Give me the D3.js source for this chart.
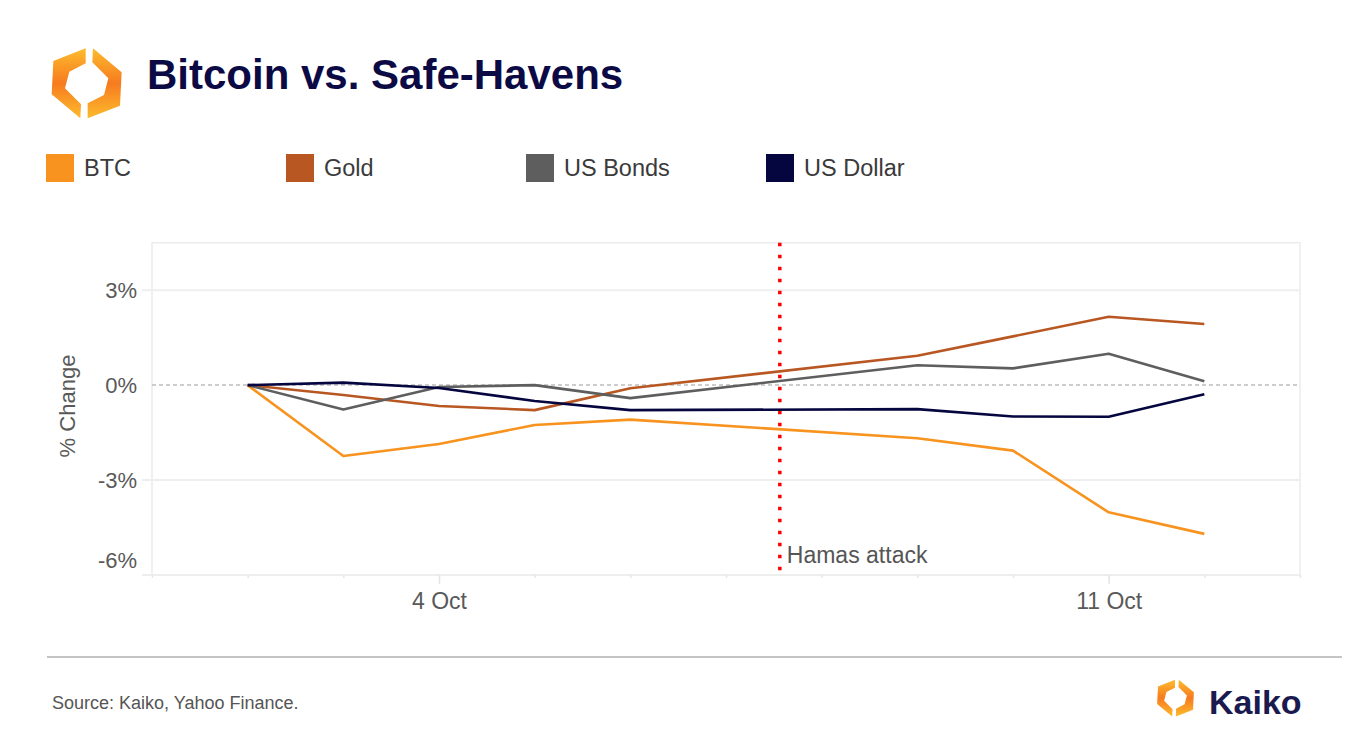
<!DOCTYPE html>
<html>
<head>
<meta charset="utf-8">
<script src="https://d3js.org/d3.v7.min.js"></script>
<style>
  body { margin: 0; background: #fff; }
  text { font-family: "Liberation Sans", Arial, sans-serif; }
</style>
</head>
<body>
<script>
var w = 1356, h = 742;

// data (percent change since 2 Oct 2023)
var dates = ["2023-10-02","2023-10-03","2023-10-04","2023-10-05","2023-10-06","2023-10-09","2023-10-10","2023-10-11","2023-10-12"];
var btc   = [0, -2.24, -1.86, -1.26, -1.09, -1.68, -2.07, -4.02, -4.70];
var gold  = [0, -0.31, -0.66, -0.79, -0.10, 0.93, 1.54, 2.16, 1.93];
var bonds = [0, -0.77, -0.06, 0.00, -0.41, 0.63, 0.53, 0.99, 0.12];
var usd   = [0, 0.08, -0.09, -0.50, -0.79, -0.76, -0.99, -1.00, -0.29];
var seriesNames  = ["BTC", "Gold", "US Bonds", "US Dollar"];
var seriesColors = ["#f7931e", "#b85722", "#5e5e5e", "#05053f"];
var yTicks = [-6, -3, 0, 3];
var xLabelDates = ["2023-10-04", "2023-10-11"];
var xDomain = ["2023-10-01", "2023-10-13"];
var eventDate = "2023-10-07T13:30";
var eventLabel = "Hamas attack";

var parseDay = d3.timeParse("%Y-%m-%d");
var parseTime = d3.timeParse("%Y-%m-%dT%H:%M");

var svg = d3.select("body").append("svg")
  .attr("width", w)
  .attr("height", h);

var defs = svg.append("defs");
var grad = defs.append("linearGradient")
  .attr("id", "logoGrad")
  .attr("x1", 0).attr("y1", 0).attr("x2", 0).attr("y2", 1);
grad.append("stop").attr("offset", "0%").attr("stop-color", "#fdbb2d");
grad.append("stop").attr("offset", "50%").attr("stop-color", "#f67b1f");
grad.append("stop").attr("offset", "100%").attr("stop-color", "#fdbb2d");

function drawLogo(g) {
  var left = "M40,48 L137,10 L137,55 L88,80 L75,130 L123,178 L121,220 L35,148 Z";
  var right = "M240,182 L143,220 L143,175 L192,150 L205,100 L157,52 L159,10 L245,82 Z";
  g.append("path").attr("d", left).attr("fill", "url(#logoGrad)");
  g.append("path").attr("d", right).attr("fill", "url(#logoGrad)");
}

// header
drawLogo(svg.append("g").attr("transform", "translate(40,45) scale(0.3333)"));

svg.append("text")
  .attr("x", 147)
  .attr("y", 89)
  .attr("font-size", "42px")
  .attr("font-weight", "bold")
  .attr("fill", "#0c0a45")
  .text("Bitcoin vs. Safe-Havens");

// legend
var legend = svg.selectAll(".legend")
  .data(seriesNames)
  .enter()
  .append("g")
  .attr("class", "legend")
  .attr("transform", function(d, i) { return "translate(" + (46 + i * 240) + ",154)"; });

legend.append("rect")
  .attr("width", 28)
  .attr("height", 28)
  .attr("fill", function(d, i) { return seriesColors[i]; });

legend.append("text")
  .attr("x", 38)
  .attr("y", 22)
  .attr("font-size", "23.5px")
  .attr("fill", "#3a3a3a")
  .text(function(d) { return d; });

// scales
var x = d3.scaleTime()
  .domain(xDomain.map(parseDay))
  .range([152, 1300]);

var y = d3.scaleLinear()
  .domain([-6, 4.5])
  .range([575, 242.7]);

// frame
svg.append("rect")
  .attr("x", 152)
  .attr("y", y(4.5))
  .attr("width", 1300 - 152)
  .attr("height", y(-6) - y(4.5))
  .attr("fill", "none")
  .attr("stroke", "#ececec")
  .attr("stroke-width", 1.5);

// gridlines
svg.selectAll(".grid")
  .data(yTicks.filter(function(d) { return d !== 0; }))
  .enter()
  .append("line")
  .attr("x1", 142)
  .attr("x2", 1300)
  .attr("y1", function(d) { return y(d); })
  .attr("y2", function(d) { return y(d); })
  .attr("stroke", "#eeeeee")
  .attr("stroke-width", 2);

svg.append("line")
  .attr("x1", 152)
  .attr("x2", 1300)
  .attr("y1", y(0))
  .attr("y2", y(0))
  .attr("stroke", "#bdbdbd")
  .attr("stroke-width", 1.5)
  .attr("stroke-dasharray", "4,3");

// y labels
svg.selectAll(".ylab")
  .data(yTicks)
  .enter()
  .append("text")
  .attr("x", 137)
  .attr("y", function(d) { return d === -6 ? y(d) - 15 : y(d); })
  .attr("dy", "0.35em")
  .attr("text-anchor", "end")
  .attr("font-size", "22px")
  .attr("fill", "#595959")
  .text(function(d) { return d + "%"; });

svg.append("text")
  .attr("transform", "translate(75," + 406 + ") rotate(-90)")
  .attr("text-anchor", "middle")
  .attr("font-size", "22px")
  .attr("fill", "#595959")
  .text("% Change");

// x axis: daily minor ticks
var days = d3.timeDay.range(x.domain()[0], d3.timeDay.offset(x.domain()[1], 1));
var minorAxis = d3.axisBottom(x).tickValues(days).tickSize(3).tickFormat("");
var gMinor = svg.append("g").attr("transform", "translate(0,575)").call(minorAxis);
gMinor.select(".domain").remove();
gMinor.selectAll("line").attr("stroke", "#e6e6e6").attr("stroke-width", 1.5);

var majorAxis = d3.axisBottom(x)
  .tickValues(xLabelDates.map(parseDay))
  .tickSize(9)
  .tickPadding(9)
  .tickFormat(d3.timeFormat("%-d %b"));
var gMajor = svg.append("g").attr("transform", "translate(0,575)").call(majorAxis);
gMajor.select(".domain").remove();
gMajor.selectAll("line").attr("stroke", "#e6e6e6").attr("stroke-width", 1.5);
gMajor.selectAll("text")
  .attr("font-family", "Liberation Sans, Arial, sans-serif")
  .attr("font-size", "23px")
  .attr("fill", "#595959");

// event marker
var ex = x(parseTime(eventDate));
svg.append("line")
  .attr("x1", ex).attr("x2", ex)
  .attr("y1", y(4.5)).attr("y2", y(-6))
  .attr("stroke", "#ff0000")
  .attr("stroke-width", 3.5)
  .attr("stroke-dasharray", "3.5,8.5");

svg.append("text")
  .attr("x", ex + 7)
  .attr("y", 563)
  .attr("font-size", "23px")
  .attr("fill", "#555555")
  .text(eventLabel);

// series lines
var allSeries = [btc, gold, bonds, usd];
var line = d3.line()
  .x(function(d, i) { return x(parseDay(dates[i])); })
  .y(function(d) { return y(d); });

svg.selectAll(".series")
  .data(allSeries)
  .enter()
  .append("path")
  .attr("class", "series")
  .attr("d", function(d) { return line(d); })
  .attr("fill", "none")
  .attr("stroke", function(d, i) { return seriesColors[i]; })
  .attr("stroke-width", 2.6)
  .attr("stroke-linejoin", "round");

// footer
svg.append("line")
  .attr("x1", 47).attr("x2", 1342)
  .attr("y1", 657).attr("y2", 657)
  .attr("stroke", "#c4c4c4")
  .attr("stroke-width", 2);

svg.append("text")
  .attr("x", 52)
  .attr("y", 709)
  .attr("font-size", "18px")
  .attr("fill", "#555555")
  .text("Source: Kaiko, Yahoo Finance.");

drawLogo(svg.append("g").attr("transform", "translate(1151,678) scale(0.175)"));

svg.append("text")
  .attr("x", 1209)
  .attr("y", 714)
  .attr("font-family", "Inter, sans-serif")
  .attr("font-size", "34px")
  .attr("font-weight", "bold")
  .attr("fill", "#1b1a4f")
  .text("Kaiko");
</script>
</body>
</html>
